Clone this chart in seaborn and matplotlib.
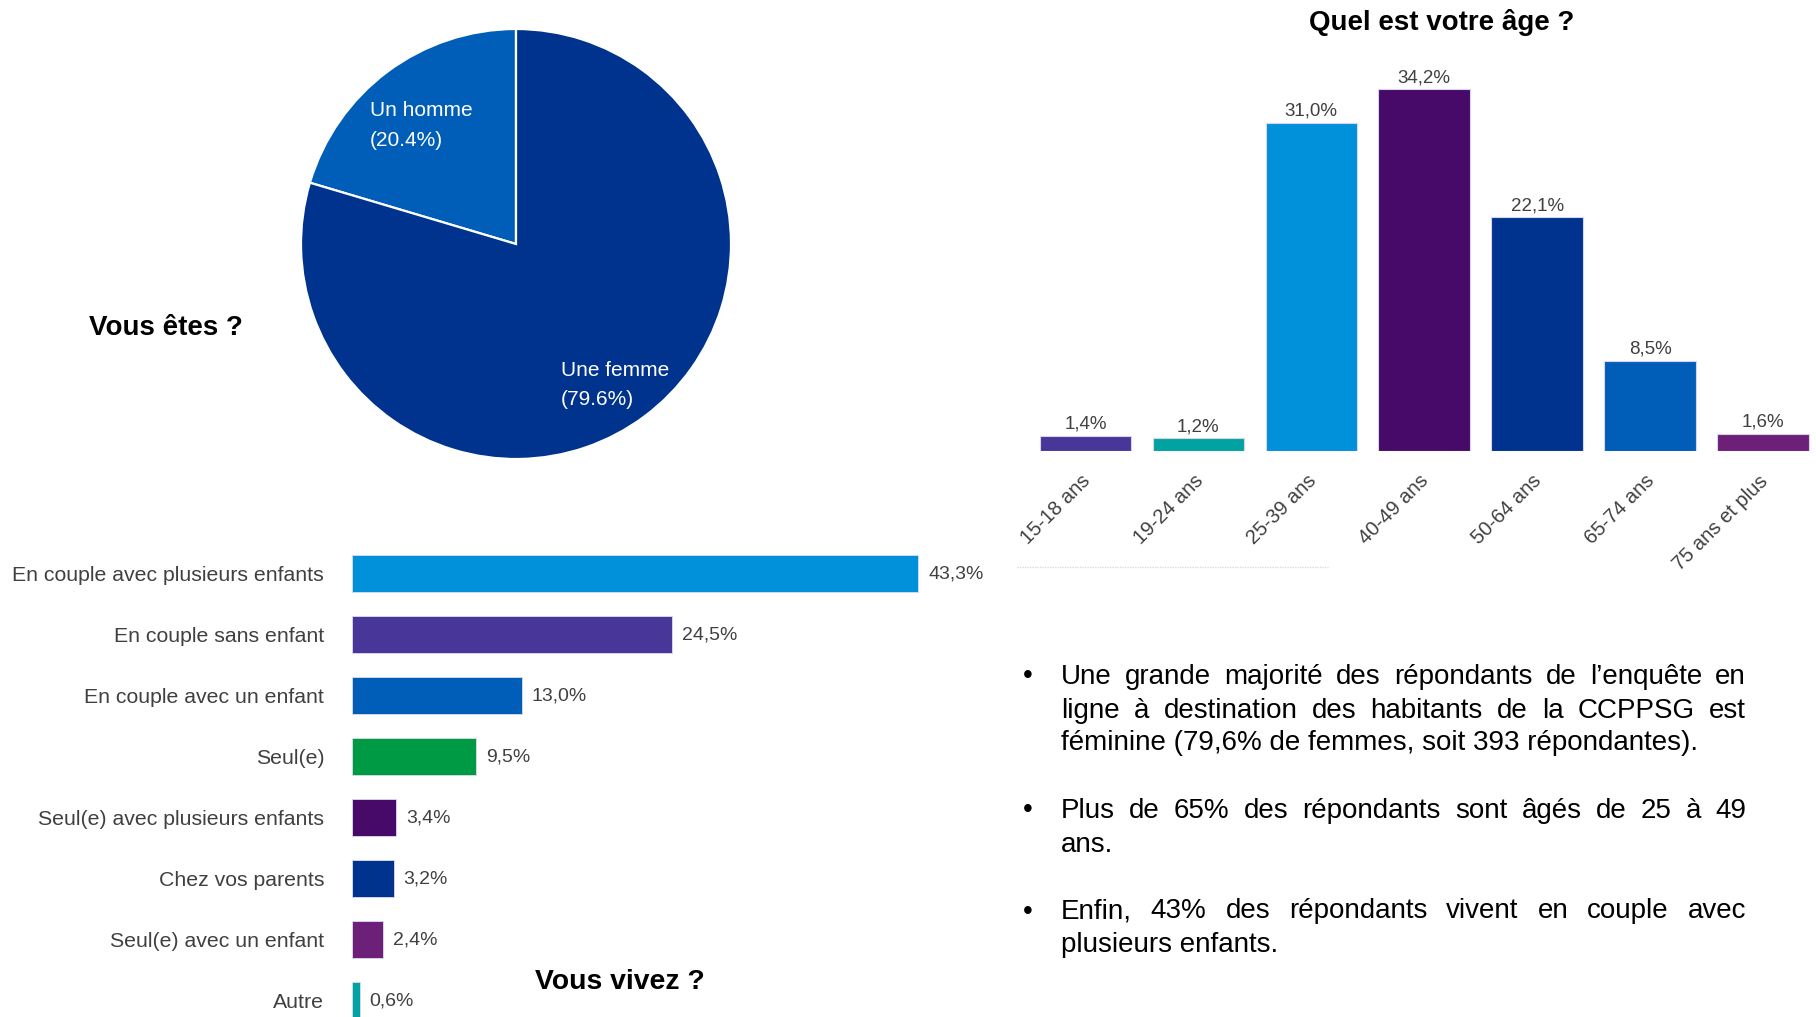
import matplotlib
matplotlib.use("Agg")
import matplotlib.pyplot as plt
import seaborn as sns
import pandas as pd
from matplotlib.lines import Line2D
from matplotlib.transforms import IdentityTransform, ScaledTranslation

sns.set_theme(style="white")
plt.rcParams['font.family'] = ['Liberation Sans', 'DejaVu Sans']

# ---- data -----------------------------------------------------------------
gender_labels = ["Un homme", "Une femme"]
gender_values = [20.4, 79.6]
gender_colors = ["#005EB8", "#00338D"]

age_labels = ["15-18 ans", "19-24 ans", "25-39 ans", "40-49 ans",
              "50-64 ans", "65-74 ans", "75 ans et plus"]
age_values = [1.4, 1.2, 31.0, 34.2, 22.1, 8.5, 1.6]
age_colors = ["#483698", "#00A3A1", "#0091DA", "#470A68",
              "#00338D", "#005EB8", "#6D2077"]

living_labels = ["En couple avec plusieurs enfants", "En couple sans enfant",
                 "En couple avec un enfant", "Seul(e)",
                 "Seul(e) avec plusieurs enfants", "Chez vos parents",
                 "Seul(e) avec un enfant", "Autre"]
living_values = [43.3, 24.5, 13.0, 9.5, 3.4, 3.2, 2.4, 0.6]
living_colors = ["#0091DA", "#483698", "#005EB8", "#009A44",
                 "#470A68", "#00338D", "#6D2077", "#00A3A1"]

bullets = [
    ["Une grande majorité des répondants de l’enquête en",
     "ligne à destination des habitants de la CCPPSG est",
     "féminine (79,6% de femmes, soit 393 répondantes)."],
    ["Plus de 65% des répondants sont âgés de 25 à 49",
     "ans."],
    ["Enfin, 43% des répondants vivent en couple avec",
     "plusieurs enfants."],
]

GREY = "#404040"


def pct_fr(v):
    return f"{v:.1f}".replace(".", ",") + "%"


W, H = 1816, 1017
fig = plt.figure(figsize=(W / 100, H / 100), dpi=100)
fig.patch.set_facecolor("white")


def px_axes(left, top, width, height):
    return fig.add_axes([left / W, 1 - (top + height) / H, width / W, height / H])


# ---- pie: Vous êtes ? -------------------------------------------------------
ax_pie = px_axes(301, 29, 430, 430)
ax_pie.pie(gender_values, colors=gender_colors, startangle=90, counterclock=True,
           wedgeprops=dict(edgecolor="white", linewidth=1.6))
ax_pie.set_xlim(-1, 1)
ax_pie.set_ylim(-1, 1)
ax_pie.set_aspect("equal")
ax_pie.axis("off")
pie_label_pos = [(-0.68, 0.55), (0.21, -0.655)]
for lab, val, (px, py) in zip(gender_labels, gender_values, pie_label_pos):
    ax_pie.text(px, py, f"{lab}\n({val:.1f}%)", color="white", fontsize=15,
                ha="left", va="center", linespacing=1.7)

fig.text(166 / W, 1 - 328 / H, "Vous êtes ?", fontsize=20, fontweight="bold",
         ha="center", va="center", color="black")

# ---- vertical bars: age -----------------------------------------------------
ax_age = px_axes(1029, 27.5, 787, 423)
age_df = pd.DataFrame({"age": age_labels, "pct": age_values})
sns.barplot(data=age_df, x="age", y="pct", hue="age", palette=age_colors,
            saturation=1, legend=False, width=0.81, ax=ax_age,
            edgecolor="#d8d4ec", linewidth=0.8)
ax_age.set_xlim(-0.5, 6.47)
ax_age.set_ylim(0, 40)
for cont in ax_age.containers:
    ax_age.bar_label(cont, labels=[pct_fr(v) for v in cont.datavalues],
                     padding=2, fontsize=13.5, color=GREY)
ax_age.set_xlabel("")
ax_age.set_ylabel("")
ax_age.set_yticks([])
ax_age.set_xticks(range(len(age_labels)))
ax_age.set_xticklabels(age_labels, rotation=45, ha="right", va="top",
                       rotation_mode="anchor", fontsize=14.5, color=GREY)
ax_age.tick_params(axis="x", length=0, pad=15)
shift = ScaledTranslation(-5 / 100, 0, fig.dpi_scale_trans)
for lbl in ax_age.get_xticklabels():
    lbl.set_transform(lbl.get_transform() + shift)
for s in ax_age.spines.values():
    s.set_visible(False)
ax_age.set_facecolor("none")

fig.text(1442 / W, 1 - 23 / H, "Quel est votre âge ?", fontsize=20,
         fontweight="bold", ha="center", va="center", color="black")

fig.add_artist(Line2D([1017 / W, 1328 / W], [1 - 567 / H, 1 - 567 / H],
                      color="#d6d6d6", lw=0.9, linestyle=(0, (1, 1))))

# ---- horizontal bars: Vous vivez ? -----------------------------------------
ax_liv = px_axes(352, 543, 654, 476)
liv_df = pd.DataFrame({"cat": living_labels, "pct": living_values})
sns.barplot(data=liv_df, y="cat", x="pct", hue="cat", palette=living_colors,
            saturation=1, legend=False, width=0.6, orient="h", ax=ax_liv,
            edgecolor="#dcdcf0", linewidth=0.6)
ax_liv.set_xlim(0, 50)
ax_liv.set_ylim(7.3, -0.5)
for cont in ax_liv.containers:
    ax_liv.bar_label(cont, labels=[pct_fr(v) for v in cont.datavalues],
                     padding=7, fontsize=14, color=GREY)
ax_liv.set_xlabel("")
ax_liv.set_ylabel("")
ax_liv.set_xticks([])
ax_liv.tick_params(axis="y", length=0, pad=20, labelsize=15.3, labelcolor=GREY)
for s in ax_liv.spines.values():
    s.set_visible(False)
ax_liv.set_facecolor("none")

fig.text(620 / W, 1 - 982 / H, "Vous vivez ?", fontsize=20.4, fontweight="bold",
         ha="center", va="center", color="black")

# ---- justified bullet text ------------------------------------------------
renderer = fig.canvas.get_renderer()
TXT_SIZE = 20
X0, X1 = 1061, 1746
line_y = [[676.5, 710.5, 743.5], [810.5, 844.5], [911.5, 945.5]]


def draw_line(text, y, justify):
    yd = H - y
    if not justify:
        fig.text(X0, yd, text, fontsize=TXT_SIZE, color="black", ha="left",
                 va="center", transform=IdentityTransform())
        return
    words = text.split(" ")
    arts = [fig.text(0, yd, w, fontsize=TXT_SIZE, color="black", ha="left",
                     va="center", transform=IdentityTransform()) for w in words]
    widths = [a.get_window_extent(renderer).width for a in arts]
    gap = (X1 - X0 - sum(widths)) / (len(words) - 1)
    x = X0
    for a, w in zip(arts, widths):
        a.set_position((x, yd))
        x += w + gap


for para, ys in zip(bullets, line_y):
    fig.text(1028, H - ys[0], "•", fontsize=TXT_SIZE, color="black",
             ha="center", va="center", transform=IdentityTransform())
    for i, (line, y) in enumerate(zip(para, ys)):
        draw_line(line, y, justify=(i < len(para) - 1))

fig.savefig("out.png", dpi=100, facecolor="white")
